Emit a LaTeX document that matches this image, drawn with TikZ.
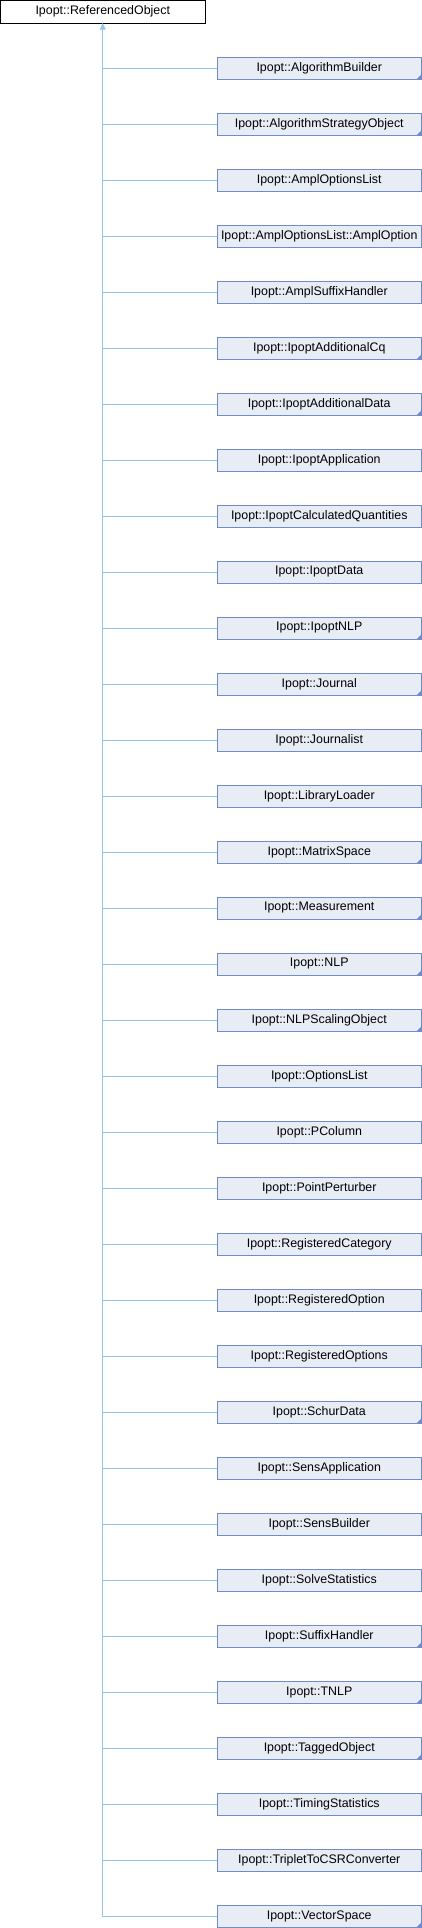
\documentclass[tikz,border=0pt]{standalone}
\usepackage{fontspec}
\setmainfont{Liberation Sans}
\usetikzlibrary{arrows.meta}

\definecolor{boxfill}{HTML}{E8ECF5}
\definecolor{boxline}{HTML}{6F8DC8}
\definecolor{linkcol}{HTML}{95C6EA}
\definecolor{cornercol}{HTML}{6F8DC8}

\tikzset{
  cls/.style={draw=boxline, fill=boxfill, line width=1pt, inner sep=0pt,
    minimum width=204pt, minimum height=22pt,
    font=\fontsize{12.4}{14}\selectfont},
  base/.style={cls, draw=black, fill=white, minimum width=204.5pt, minimum height=22.5pt},
  sub/.style={path picture={\fill[cornercol] (path picture bounding box.south east)
    -- ++(-4.5pt,0pt) -- ++(4.5pt,4.5pt) -- cycle;}},
  link/.style={draw=linkcol, line width=1pt}
}

\begin{document}
\begin{tikzpicture}[x=1pt,y=-1pt]
\useasboundingbox (0,0) rectangle (422,1928);

\node[base] (RO) at (102.75,11.75) {Ipopt::ReferencedObject};

\node[cls,sub] (AB)   at (319.25,68)   {Ipopt::AlgorithmBuilder};
\node[cls,sub] (ASO)  at (319.25,124)  {Ipopt::AlgorithmStrategyObject};
\node[cls]     (AOL)  at (319.25,180)  {Ipopt::AmplOptionsList};
\node[cls]     (AO)   at (319.25,236)  {Ipopt::AmplOptionsList::AmplOption};
\node[cls]     (ASH)  at (319.25,292)  {Ipopt::AmplSuffixHandler};
\node[cls,sub] (IAC)  at (319.25,348)  {Ipopt::IpoptAdditionalCq};
\node[cls,sub] (IAD)  at (319.25,404)  {Ipopt::IpoptAdditionalData};
\node[cls]     (IA)   at (319.25,460)  {Ipopt::IpoptApplication};
\node[cls]     (ICQ)  at (319.25,516)  {Ipopt::IpoptCalculatedQuantities};
\node[cls]     (ID)   at (319.25,572)  {Ipopt::IpoptData};
\node[cls,sub] (INLP) at (319.25,628)  {Ipopt::IpoptNLP};
\node[cls,sub] (J)    at (319.25,684)  {Ipopt::Journal};
\node[cls]     (JL)   at (319.25,740)  {Ipopt::Journalist};
\node[cls]     (LL)   at (319.25,796)  {Ipopt::LibraryLoader};
\node[cls,sub] (MS)   at (319.25,852)  {Ipopt::MatrixSpace};
\node[cls,sub] (M)    at (319.25,908)  {Ipopt::Measurement};
\node[cls,sub] (NLP)  at (319.25,964)  {Ipopt::NLP};
\node[cls,sub] (NSO)  at (319.25,1020) {Ipopt::NLPScalingObject};
\node[cls]     (OL)   at (319.25,1076) {Ipopt::OptionsList};
\node[cls]     (PC)   at (319.25,1132) {Ipopt::PColumn};
\node[cls]     (PP)   at (319.25,1188) {Ipopt::PointPerturber};
\node[cls]     (RC)   at (319.25,1244) {Ipopt::RegisteredCategory};
\node[cls]     (RO1)  at (319.25,1300) {Ipopt::RegisteredOption};
\node[cls]     (ROS)  at (319.25,1356) {Ipopt::RegisteredOptions};
\node[cls,sub] (SD)   at (319.25,1412) {Ipopt::SchurData};
\node[cls]     (SA)   at (319.25,1468) {Ipopt::SensApplication};
\node[cls]     (SB)   at (319.25,1524) {Ipopt::SensBuilder};
\node[cls]     (SS)   at (319.25,1580) {Ipopt::SolveStatistics};
\node[cls,sub] (SH)   at (319.25,1636) {Ipopt::SuffixHandler};
\node[cls,sub] (TNLP) at (319.25,1692) {Ipopt::TNLP};
\node[cls,sub] (TO)   at (319.25,1748) {Ipopt::TaggedObject};
\node[cls]     (TS)   at (319.25,1804) {Ipopt::TimingStatistics};
\node[cls]     (TCC)  at (319.25,1860) {Ipopt::TripletToCSRConverter};
\node[cls,sub] (VS)   at (319.25,1916) {Ipopt::VectorSpace};

\draw[link, {Triangle[length=6pt,width=6pt]}-] (RO) |- (VS);
\draw[link] (RO) |- (AB);
\draw[link] (RO) |- (ASO);
\draw[link] (RO) |- (AOL);
\draw[link] (RO) |- (AO);
\draw[link] (RO) |- (ASH);
\draw[link] (RO) |- (IAC);
\draw[link] (RO) |- (IAD);
\draw[link] (RO) |- (IA);
\draw[link] (RO) |- (ICQ);
\draw[link] (RO) |- (ID);
\draw[link] (RO) |- (INLP);
\draw[link] (RO) |- (J);
\draw[link] (RO) |- (JL);
\draw[link] (RO) |- (LL);
\draw[link] (RO) |- (MS);
\draw[link] (RO) |- (M);
\draw[link] (RO) |- (NLP);
\draw[link] (RO) |- (NSO);
\draw[link] (RO) |- (OL);
\draw[link] (RO) |- (PC);
\draw[link] (RO) |- (PP);
\draw[link] (RO) |- (RC);
\draw[link] (RO) |- (RO1);
\draw[link] (RO) |- (ROS);
\draw[link] (RO) |- (SD);
\draw[link] (RO) |- (SA);
\draw[link] (RO) |- (SB);
\draw[link] (RO) |- (SS);
\draw[link] (RO) |- (SH);
\draw[link] (RO) |- (TNLP);
\draw[link] (RO) |- (TO);
\draw[link] (RO) |- (TS);
\draw[link] (RO) |- (TCC);

\end{tikzpicture}
\end{document}
